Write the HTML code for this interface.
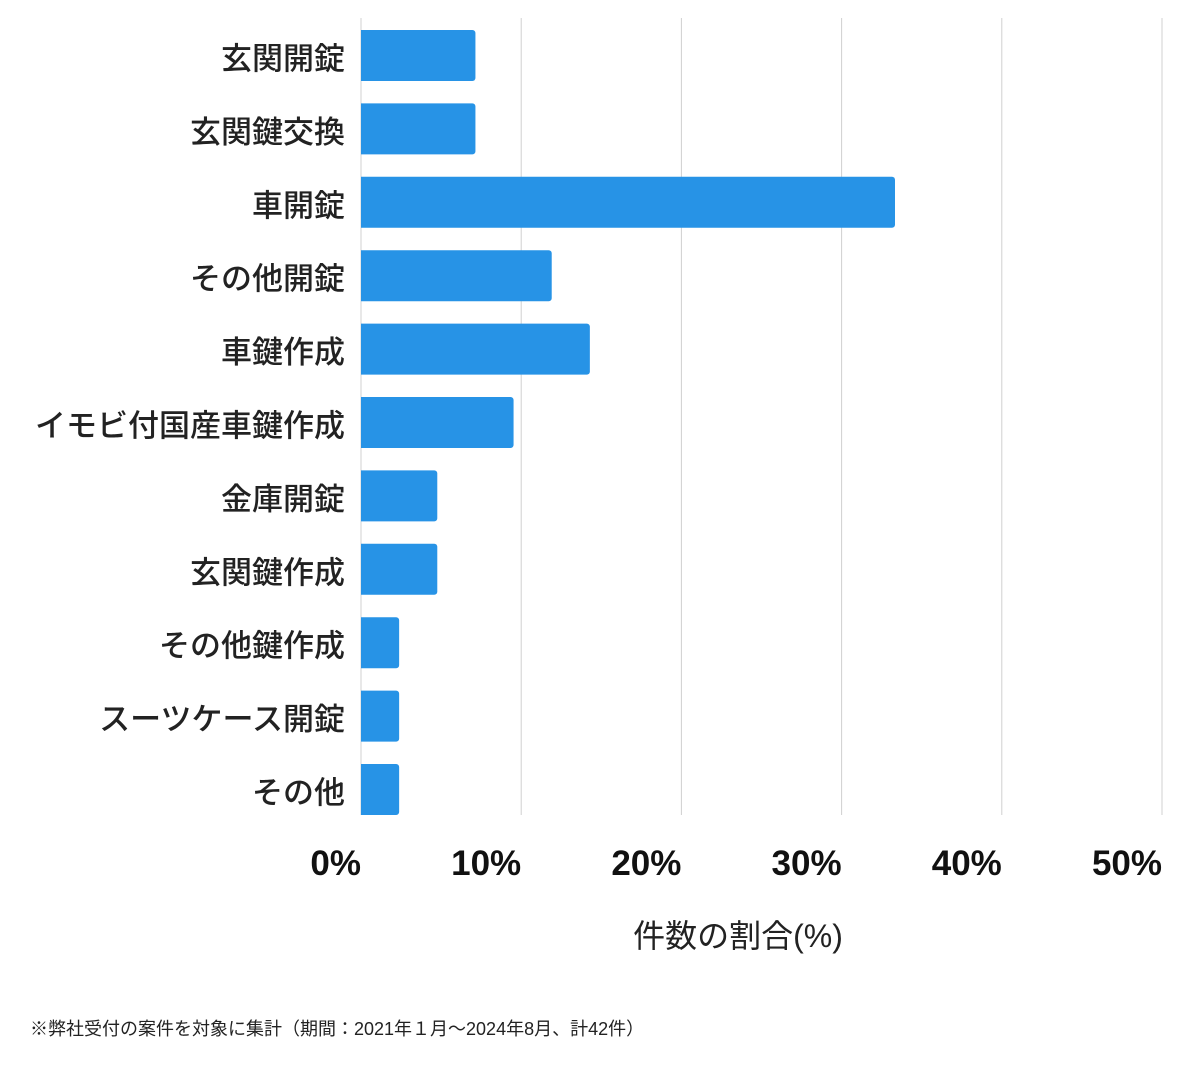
<!DOCTYPE html>
<html><head><meta charset="utf-8"><style>
html,body{margin:0;padding:0;background:#fff;}
svg text{font-family:"Liberation Sans","Noto Sans CJK JP",sans-serif;}
</style></head><body>
<svg id="chart" width="1200" height="1069" xmlns="http://www.w3.org/2000/svg">
<g id="grid"></g>
<g id="bars"></g>
<g id="ylabels"></g>
<g id="xlabels"></g>
<text x="738" y="947" font-size="32" text-anchor="middle" fill="#222">件数の割合(%)</text>
<text x="30" y="1035" font-size="18" fill="#222">※弊社受付の案件を対象に集計（期間：2021年１月〜2024年8月、計42件）</text>
</svg>
<script>
const categories=["玄関開錠","玄関鍵交換","車開錠","その他開錠","車鍵作成","イモビ付国産車鍵作成","金庫開錠","玄関鍵作成","その他鍵作成","スーツケース開錠","その他"];
const counts=[3,3,14,5,6,4,2,2,1,1,1];
const total=42;
const ticks=[0,10,20,30,40,50];
const tickLabels=["0%","10%","20%","30%","40%","50%"];
const NS="http://www.w3.org/2000/svg";
const x0=361,x1=1162,plotTop=18,plotBottom=815;
const xs=v=>x0+(x1-x0)*v/50;
const firstCenter=55.5,band=73.4;
const grid=document.getElementById('grid'),bars=document.getElementById('bars'),yl=document.getElementById('ylabels'),xl=document.getElementById('xlabels');
function mk(t,a,p){const e=document.createElementNS(NS,t);for(const k in a)e.setAttribute(k,a[k]);p.appendChild(e);return e;}
ticks.forEach((t,i)=>{
const l=mk('line',{x1:xs(t),x2:xs(t),y1:plotTop,y2:plotBottom,stroke:'#d0d0d0','stroke-width':1},grid);


const tx=mk('text',{x:xs(t),y:875,'font-size':35,'font-weight':'bold','text-anchor':'end',fill:'#111'},xl);
tx.textContent=tickLabels[i];


});
categories.forEach((c,i)=>{
const yc=firstCenter+band*i;
const v=counts[i]/total*100;
const w=xs(v)-x0;
const r=mk('path',{d:`M${x0},${yc-25.5}h${w-3}a3,3 0 0 1 3,3v45a3,3 0 0 1 -3,3h${-(w-3)}z`,fill:'#2793e6'},bars);


const t=mk('text',{x:345,y:yc+14,'font-size':31,'font-weight':500,'text-anchor':'end',fill:'#222'},yl);
t.textContent=c;


});
</script>
</body></html>
